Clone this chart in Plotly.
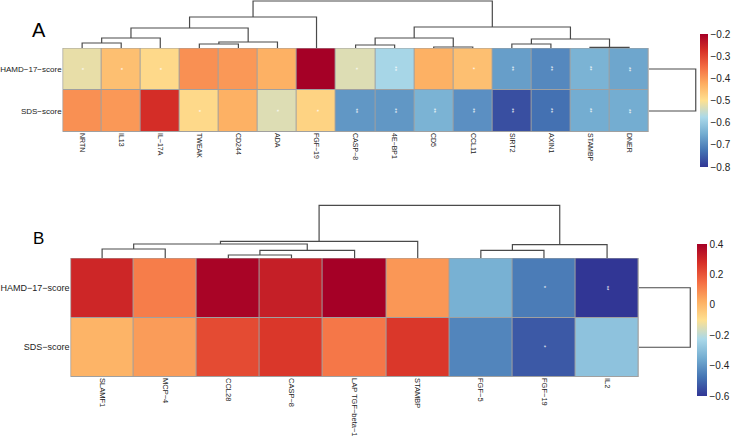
import plotly.graph_objects as go

W, H = 732, 443

# ---------------- data ----------------
rows = ["HAMD−17−score", "SDS−score"]

a_cols = ["NRTN", "IL13", "IL−17A", "TWEAK", "CD244", "ADA", "FGF−19", "CASP−8",
          "4E−BP1", "CD5", "CCL11", "SIRT2", "AXIN1", "STAMBP", "DNER"]
a_hamd = [-0.52, -0.45, -0.49, -0.39, -0.40, -0.43, -0.20, -0.53,
          -0.58, -0.43, -0.45, -0.67, -0.70, -0.64, -0.66]
a_sds = [-0.39, -0.40, -0.27, -0.49, -0.43, -0.53, -0.48, -0.68,
         -0.68, -0.64, -0.69, -0.77, -0.73, -0.65, -0.65]
a_hamd_sig = ["*", "*", "*", "", "", "", "", "*", "**", "", "*", "**", "**", "**", "**"]
a_sds_sig = ["", "", "", "*", "", "*", "*", "**", "**", "**", "**", "**", "**", "**", "**"]
# merges: (cluster a, cluster b, height); leaves 0..n-1, merge k -> n+k
a_col_merges = [(0, 1, 5), (15, 2, 10), (3, 4, 4), (17, 5, 6), (16, 18, 20), (19, 6, 31),
                (7, 8, 3), (9, 10, 1), (21, 22, 10), (11, 12, 4), (13, 14, 0.6),
                (24, 25, 9), (23, 26, 21), (20, 27, 47)]
a_row_merges = [(0, 1, 47.5)]
a_ticks = [-0.8, -0.7, -0.6, -0.5, -0.4, -0.3, -0.2]

b_cols = ["SLAMF1", "MCP−4", "CCL28", "CASP−8", "LAP TGF−beta−1", "STAMBP",
          "FGF−5", "FGF−19", "IL2"]
b_hamd = [0.30, 0.12, 0.39, 0.32, 0.40, 0.07, -0.34, -0.46, -0.60]
b_sds = [0.01, 0.06, 0.22, 0.26, 0.13, 0.26, -0.44, -0.53, -0.29]
b_hamd_sig = ["", "", "", "", "", "", "", "*", "**"]
b_sds_sig = ["", "", "", "", "", "", "", "*", ""]
b_col_merges = [(0, 1, 9), (2, 3, 3), (10, 4, 7.6), (9, 11, 14), (12, 5, 16.6),
                (6, 7, 7.6), (14, 8, 13.3), (13, 15, 52.6)]
b_row_merges = [(0, 1, 52)]
b_ticks = [-0.6, -0.4, -0.2, 0, 0.2, 0.4]

# ---------------- style ----------------
cscale = [[0.0, "#313695"], [0.125, "#4575B4"], [0.25, "#74ADD1"], [0.375, "#ABD9E9"],
          [0.5, "#FEE090"], [0.625, "#FDAE61"], [0.75, "#F46D43"], [0.875, "#D73027"],
          [1.0, "#A50026"]]
FONT = "Liberation Sans, Arial, sans-serif"
LINE = "#4a4a4a"
BORDER = "#a0a0a0"


def px_x(p):
    return p / W


def px_y(p):
    return 1 - p / H


def dendro(merges, n):
    pos = {i: (float(i), 0.0) for i in range(n)}
    xs, ys = [], []
    for k, (a, b, h) in enumerate(merges):
        xa, ha = pos[a]
        xb, hb = pos[b]
        xs += [xa, xa, xb, xb, None]
        ys += [ha, h, h, hb, None]
        pos[n + k] = ((xa + xb) / 2, h)
    return xs, ys


fig = go.Figure()
annotations = []
shapes = []


def panel(cols, hamd, sds, hsig, ssig, cmerges, rmerges, ticks, zmin, zmax,
          hm_x, hm_y, dend_top, row_right, cb, axn, tickfs, rowfs):
    n = len(cols)
    xa, ya = "x" + axn[0], "y" + axn[0]
    xd, yd = "x" + axn[1], "y" + axn[1]
    xr, yr = "x" + axn[2], "y" + axn[2]
    fig.add_trace(go.Heatmap(
        z=[hamd, sds], x=list(range(n)), y=[0, 1], zmin=zmin, zmax=zmax,
        colorscale=cscale, xgap=1, ygap=1, xaxis=xa, yaxis=ya,
        colorbar=dict(x=px_x(cb[0]), xanchor="left", xpad=0, ypad=0,
                      y=px_y((cb[2] + cb[3]) / 2), yanchor="middle",
                      thickness=cb[1] - cb[0], thicknessmode="pixels",
                      len=cb[3] - cb[2], lenmode="pixels", outlinewidth=0,
                      tickvals=ticks, ticktext=[("%g" % t).replace("-", "−") for t in ticks],
                      ticks="", tickfont=dict(family=FONT, size=10, color="#222"))))
    # column dendrogram
    dx, dy = dendro(cmerges, n)
    fig.add_trace(go.Scatter(x=dx, y=dy, mode="lines", xaxis=xd, yaxis=yd,
                             line=dict(color=LINE, width=1.2), hoverinfo="skip",
                             showlegend=False))
    # row dendrogram
    rx, ry = dendro(rmerges, 2)
    fig.add_trace(go.Scatter(x=ry, y=rx, mode="lines", xaxis=xr, yaxis=yr,
                             line=dict(color=LINE, width=1.2), hoverinfo="skip",
                             showlegend=False))
    # cell borders
    shapes.append(dict(type="rect", xref=xa, yref=ya, x0=-0.5, x1=n - 0.5, y0=-0.5, y1=1.5,
                       fillcolor=BORDER, line=dict(width=0), layer="below"))
    shapes.append(dict(type="rect", xref=xa, yref=ya, x0=-0.5, x1=n - 0.5, y0=-0.5, y1=1.5,
                       fillcolor="rgba(0,0,0,0)", line=dict(width=1.2, color=BORDER),
                       layer="above"))
    # significance marks
    for r, sig in enumerate([hsig, ssig]):
        for i, s in enumerate(sig):
            if s:
                annotations.append(dict(x=i, y=r, xref=xa, yref=ya, text=s, showarrow=False,
                                        textangle=90, font=dict(family=FONT, size=6,
                                                                color="white")))
    hx0, hx1 = hm_x
    hy0, hy1 = hm_y
    dmax = hy0 - dend_top
    rmax = row_right - hx1
    ax = dict(showgrid=False, zeroline=False, showline=False)
    layout_upd = {
        "xaxis" + axn[0]: dict(ax, domain=[px_x(hx0), px_x(hx1)], range=[-0.5, n - 0.5],
                               tickvals=list(range(n)), ticktext=cols, tickangle=90, ticks="",
                               tickfont=dict(family=FONT, size=tickfs, color="#222"),
                               anchor=ya, fixedrange=True),
        "yaxis" + axn[0]: dict(ax, domain=[px_y(hy1), px_y(hy0)], range=[1.5, -0.5],
                               tickvals=[0, 1], ticktext=rows, ticks="",
                               tickfont=dict(family=FONT, size=rowfs, color="#222"),
                               anchor=xa),
        "xaxis" + axn[1]: dict(ax, domain=[px_x(hx0), px_x(hx1)], range=[-0.5, n - 0.5],
                               visible=False, anchor=yd),
        "yaxis" + axn[1]: dict(ax, domain=[px_y(hy0), px_y(dend_top)], range=[0, dmax],
                               visible=False, anchor=xd),
        "xaxis" + axn[2]: dict(ax, domain=[px_x(hx1), px_x(row_right + 1)],
                               range=[0, rmax + 1], visible=False, anchor=yr),
        "yaxis" + axn[2]: dict(ax, domain=[px_y(hy1), px_y(hy0)], range=[1.5, -0.5],
                               visible=False, anchor=xr),
    }
    fig.update_layout(**layout_upd)


panel(a_cols, a_hamd, a_sds, a_hamd_sig, a_sds_sig, a_col_merges, a_row_merges, a_ticks,
      -0.8, -0.2, hm_x=(58, 648), hm_y=(48, 132), dend_top=0, row_right=696,
      cb=(700, 708, 34, 167), axn=("", "2", "3"), tickfs=7, rowfs=8)
panel(b_cols, b_hamd, b_sds, b_hamd_sig, b_sds_sig, b_col_merges, b_row_merges, b_ticks,
      -0.6, 0.4, hm_x=(66, 638), hm_y=(258, 377), dend_top=204, row_right=690,
      cb=(697, 707, 244, 396), axn=("4", "5", "6"), tickfs=7.5, rowfs=9)

annotations.append(dict(x=px_x(34), y=px_y(30), xref="paper", yref="paper", text="A",
                        showarrow=False, xanchor="center", yanchor="middle",
                        font=dict(family=FONT, size=20, color="black")))
annotations.append(dict(x=px_x(34), y=px_y(239), xref="paper", yref="paper", text="B",
                        showarrow=False, xanchor="center", yanchor="middle",
                        font=dict(family=FONT, size=17, color="black")))

fig.update_layout(width=W, height=H, margin=dict(l=0, r=0, t=0, b=0),
                  paper_bgcolor="white", plot_bgcolor="white", showlegend=False,
                  annotations=annotations, shapes=shapes, font=dict(family=FONT))

fig.write_html("out.html")
